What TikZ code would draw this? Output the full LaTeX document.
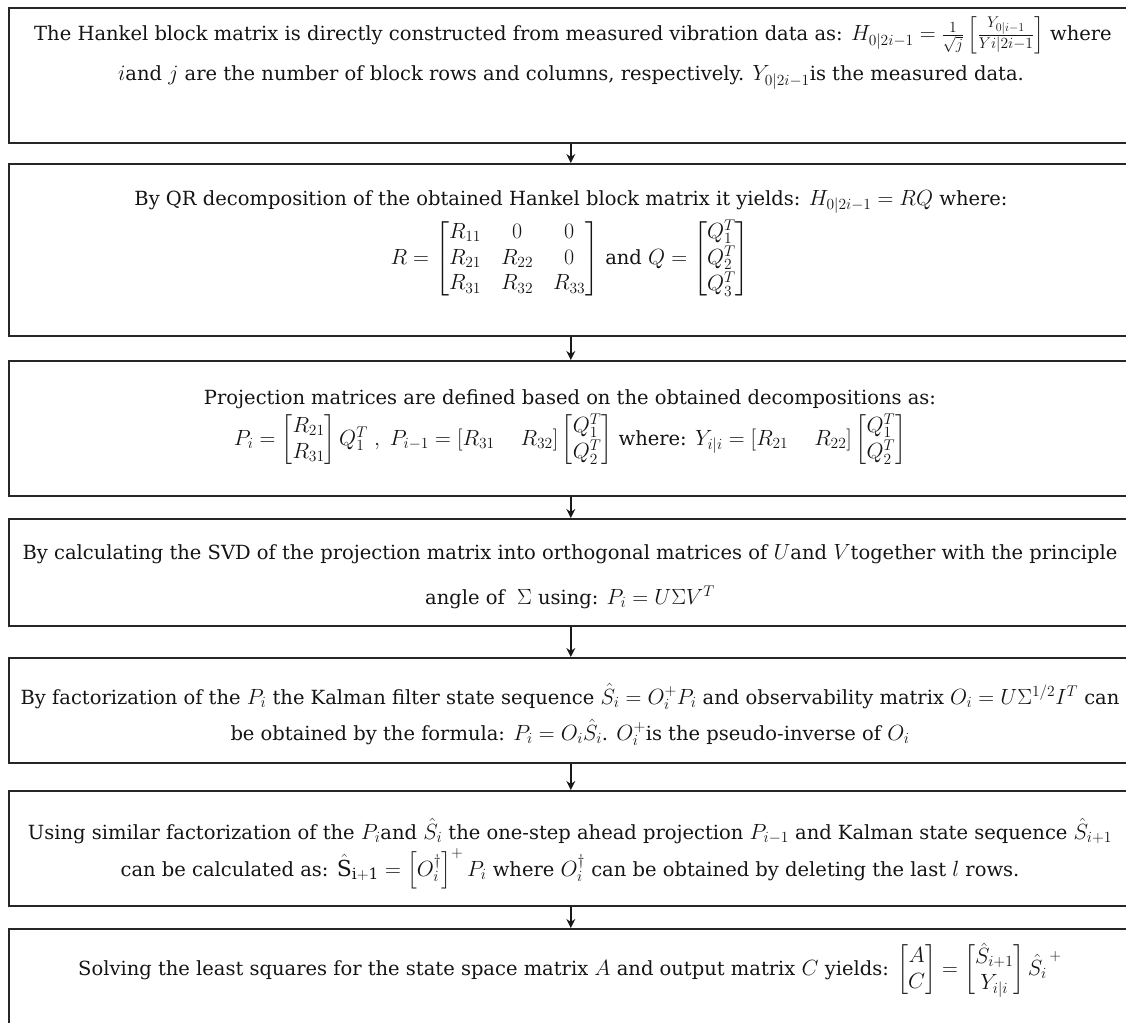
\RequirePackage{fix-cm}
\documentclass[tikz,border=0pt]{standalone}
\usepackage{amsmath}
\usepackage{fontspec}
\setmainfont{DejaVu Serif}
\usetikzlibrary{arrows.meta}
\DeclareMathSizes{19.5}{22}{15.5}{12}
\renewcommand{\arraystretch}{1.12}
\begin{document}
\begin{tikzpicture}[x=1pt,y=-1pt,
  box/.style={draw=black!85, line width=1.6pt, rectangle, inner sep=0pt, anchor=north west, minimum width=1124pt},
  txt/.style={anchor=base, inner sep=0pt, text=black!92, font=\fontsize{19.5}{23}\selectfont},
  mtxt/.style={anchor=center, inner sep=0pt, text=black!92, font=\fontsize{19.5}{23}\selectfont},
  flow/.style={-{Stealth[length=9pt,width=9pt]}, line width=1.4pt, draw=black!90}]
\useasboundingbox (0,0) rectangle (1126,1022);
% boxes
\node[box, minimum height=135pt] (b1) at (8,7) {};
\node[box, minimum height=172pt] (b2) at (8,163) {};
\node[box, minimum height=135pt] (b3) at (8,360) {};
\node[box, minimum height=107pt] (b4) at (8,518) {};
\node[box, minimum height=105pt] (b5) at (8,657) {};
\node[box, minimum height=115pt] (b6) at (8,790) {};
\node[box, minimum height=140pt] (b7) at (8,928) {};
% connectors
\draw[flow] (b1.south) -- (b2.north);
\draw[flow] (b2.south) -- (b3.north);
\draw[flow] (b3.south) -- (b4.north);
\draw[flow] (b4.south) -- (b5.north);
\draw[flow] (b5.south) -- (b6.north);
\draw[flow] (b6.south) -- (b7.north);
% texts
\node[txt] (t1a) at (573,41) {The Hankel block matrix is directly constructed from measured vibration data as: $H_{0|2i-1}=\frac{1}{\sqrt{j}}\left[\frac{Y_{0|i-1}}{Yi|2i-1}\right]$ where};
\node[txt] (t1b) at (571,81) {$i$and $j$ are the number of block rows and columns, respectively. $Y_{0|2i-1}$is the measured data.};
\node[txt] (t2a) at (571,205) {By QR decomposition of the obtained Hankel block matrix it yields: $H_{0|2i-1}=RQ$ where:};
\node[mtxt] (t2b) at (570,259) {\setlength{\arraycolsep}{10pt}$R=\begin{bmatrix}R_{11} & 0 & 0\\ R_{21} & R_{22} & 0\\ R_{31} & R_{32} & R_{33}\end{bmatrix}$ and $Q=\begin{bmatrix}Q_1^T\\ Q_2^T\\ Q_3^T\end{bmatrix}$};
\node[txt] (t3a) at (570,404) {Projection matrices are defined based on the obtained decompositions as:};
\node[mtxt] (t3b) at (570,440) {$P_i=\begin{bmatrix}R_{21}\\ R_{31}\end{bmatrix}Q_1^T\ ,\ P_{i-1}=[R_{31}\hspace{26pt}R_{32}]\begin{bmatrix}Q_1^T\\ Q_2^T\end{bmatrix}$ where: $Y_{i|i}=[R_{21}\hspace{26pt}R_{22}]\begin{bmatrix}Q_1^T\\ Q_2^T\end{bmatrix}$};
\node[txt] (t4a) at (570,559) {By calculating the SVD of the projection matrix into orthogonal matrices of $U$and $V$together with the principle};
\node[txt] (t4b) at (570,604) {angle of \ $\Sigma$ using: $P_i=U\Sigma V^T$};
\node[txt] (t5a) at (570,704) {By factorization of the $P_i$ the Kalman filter state sequence $\hat{S}_i=O_i^{+}P_i$ and observability matrix $O_i=U\Sigma^{1/2}I^T$ can};
\node[txt] (t5b) at (570,740) {be obtained by the formula: $P_i=O_i\hat{S}_i$. $O_i^{+}$is the pseudo-inverse of $O_i$};
\node[txt] (t6a) at (570,839) {Using similar factorization of the $P_i$and $\hat{S}_i$ the one-step ahead projection $P_{i-1}$ and Kalman state sequence $\hat{S}_{i+1}$};
\node[txt] (t6b) at (570,876) {can be calculated as: $\hat{\mathrm{S}}_{\mathrm{i+1}}=\left[O_i^{\dagger}\right]^{+}P_i$ where $O_i^{\dagger}$ can be obtained by deleting the last $l$ rows.};
\node[mtxt] (t7a) at (570,970) {Solving the least squares for the state space matrix $A$ and output matrix $C$ yields: $\begin{bmatrix}A\\ C\end{bmatrix}=\begin{bmatrix}\hat{S}_{i+1}\\ Y_{i|i}\end{bmatrix}\hat{S_i}^{\,+}$};
\end{tikzpicture}
\end{document}
